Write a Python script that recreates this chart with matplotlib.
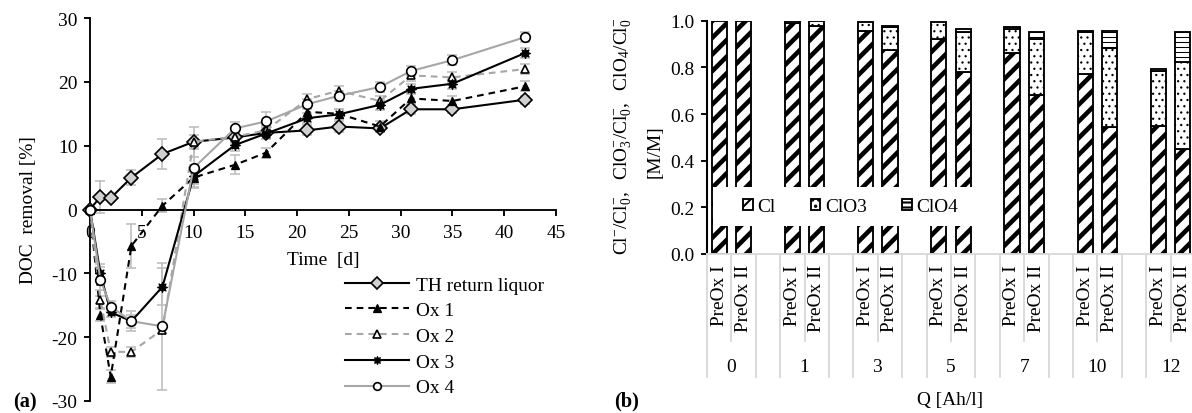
import matplotlib
matplotlib.use('Agg')
import matplotlib.pyplot as plt
import matplotlib.transforms as mtransforms
from matplotlib.patches import Rectangle, Patch
from matplotlib.lines import Line2D
import numpy as np

plt.rcParams['font.family'] = ['Liberation Serif', 'DejaVu Serif']
plt.rcParams['mathtext.fontset'] = 'custom'
plt.rcParams['mathtext.rm'] = 'Liberation Serif'
plt.rcParams['mathtext.it'] = 'Liberation Serif:italic'
plt.rcParams['mathtext.bf'] = 'Liberation Serif:bold'
plt.rcParams['axes.unicode_minus'] = False

# ---------------- data (a) ----------------
days = [0, 1, 2, 4, 7, 10, 14, 17, 21, 24, 28, 31, 35, 42]
th_vals = [0, 2.0, 1.8, 5.0, 8.7, 10.6, 11.3, 12.0, 12.4, 13.0, 12.7, 15.7, 15.7, 17.2]
ox1_vals = [0, -16.5, -26.2, -5.7, 0.6, 5.0, 7.0, 8.9, 15.3, 15.0, 13.0, 17.4, 17.0, 19.3]
ox2_vals = [0, -14.1, -22.3, -22.3, -18.8, 10.6, 11.4, 12.4, 17.3, 18.6, 17.0, 21.0, 20.7, 22.0]
ox3_vals = [0, -10.0, -16.1, -17.5, -12.1, 5.2, 10.1, 11.9, 14.3, 14.9, 16.4, 18.9, 19.7, 24.5]
ox4_vals = [0, -11.0, -15.2, -17.5, -18.3, 6.5, 12.7, 13.8, 16.5, 17.8, 19.2, 21.7, 23.4, 27.0]

th_err = [0, 2.5, 0.3, 1.2, 2.4, 2.3, 1.0, 1.0, 0.8, 0.8, 0.6, 0.8, 0.6, 0.6]
ox1_err = [0, 1.0, 1.0, 3.5, 1.0, 1.0, 1.5, 0.8, 0.8, 0.8, 0.8, 0.8, 0.8, 0.8]
ox2_err = [0, 1.5, 0.8, 0.8, 0.5, 1.0, 0.8, 0.8, 0.8, 0.8, 0.8, 0.8, 0.8, 0.8]
ox3_err = [0, 1.0, 0.8, 1.0, 2.9, 1.8, 1.0, 0.8, 0.8, 0.8, 0.8, 0.8, 0.8, 0.8]
ox4_err = [0, 2.5, 0.8, 1.6, 9.9, 3.0, 1.0, 1.5, 0.8, 0.8, 0.8, 0.8, 0.8, 0.8]

series_labels = ['TH return liquor', 'Ox 1', 'Ox 2', 'Ox 3', 'Ox 4']

# ---------------- data (b) ----------------
q_groups = ['0', '1', '3', '5', '7', '10', '12']
sub_labels = ['PreOx I', 'PreOx II']
cl_I = [1.0, 0.989, 0.957, 0.921, 0.862, 0.771, 0.550]
clo3_I = [0.0, 0.011, 0.039, 0.075, 0.102, 0.179, 0.236]
clo4_I = [0.0, 0.0, 0.0, 0.0, 0.007, 0.007, 0.007]
cl_II = [1.0, 0.979, 0.876, 0.781, 0.683, 0.543, 0.450]
clo3_II = [0.0, 0.021, 0.096, 0.169, 0.238, 0.340, 0.372]
clo4_II = [0.0, 0.0, 0.007, 0.014, 0.029, 0.074, 0.128]
species = ['Cl', 'ClO3', 'ClO4']

# ---------------- figure ----------------
DPI = 150
W, H = 1192, 414
FS = 9.3
fig = plt.figure(figsize=(W / DPI, H / DPI), dpi=DPI)


def fx(px):
    return px / W


def fy(py):
    return 1 - py / H


# ======== panel (a) ========
ax1 = fig.add_axes([fx(90), fy(402), (556 - 90) / W, (402 - 19) / H])
ax1.set_xlim(0, 45)
ax1.set_ylim(-30, 30)
ax1.spines['top'].set_visible(False)
ax1.spines['right'].set_visible(False)
ax1.spines['bottom'].set_position(('data', 0))
for s in ('left', 'bottom'):
    ax1.spines[s].set_linewidth(0.9)
ax1.set_xticks(range(0, 46, 5))
ax1.set_yticks(range(-30, 31, 10))
ax1.tick_params(axis='both', direction='out', length=3, width=0.9, labelsize=FS)
ax1.tick_params(axis='x', pad=4)
ax1.tick_params(axis='y', pad=3)
ax1.set_xlabel('Time  [d]', fontsize=FS)
ax1.xaxis.set_label_coords(0.5, (402 - 252) / 383)
ax1.set_ylabel('DOC  removal [%]', fontsize=FS)
ax1.yaxis.set_label_coords((37 - 90) / 466, 0.5)

gray_line = '#a6a6a6'
err_col = '#bfbfbf'
styles = [
    dict(color='black', ls='-', marker='D', ms=5.0, mfc='#d0d0d0', mec='black', mew=0.8),
    dict(color='black', ls=(0, (3.2, 2.4)), marker='^', ms=4.2, mfc='black', mec='black', mew=0.6),
    dict(color=gray_line, ls=(0, (3.2, 2.4)), marker='^', ms=4.2, mfc='white', mec='black', mew=0.8),
    dict(color='black', ls='-', marker=(8, 1, 0), ms=5.0, mfc='black', mec='black', mew=0.5),
    dict(color=gray_line, ls='-', marker='o', ms=4.6, mfc='white', mec='black', mew=0.8),
]
all_vals = [th_vals, ox1_vals, ox2_vals, ox3_vals, ox4_vals]
all_errs = [th_err, ox1_err, ox2_err, ox3_err, ox4_err]

for vals, errs in zip(all_vals, all_errs):
    ax1.errorbar(days[1:], vals[1:], yerr=errs[1:], fmt='none', ecolor=err_col,
                 elinewidth=0.8, capsize=2.6, capthick=0.8, zorder=2)

handles = []
for i, (vals, st) in enumerate(zip(all_vals, styles)):
    ln, = ax1.plot(days, vals, lw=1.0, label=series_labels[i], zorder=3 + i,
                   clip_on=False, **st)
    handles.append(ln)

leg = fig.legend(handles=handles, loc='upper left',
                 bbox_to_anchor=(fx(345), fy(277)), bbox_transform=fig.transFigure,
                 frameon=False, fontsize=FS, borderpad=0, handlelength=3.3,
                 handletextpad=0.35, labelspacing=0.42, numpoints=1, markerscale=0.8,
                 borderaxespad=0)

fig.text(fx(25), fy(402), '(a)', fontsize=FS + 0.5, fontweight='bold', ha='center', va='center')

# ======== panel (b) ========
left_px, right_px, top_px, bot_px = 707, 1195, 21.7, 255
ax2 = fig.add_axes([fx(left_px), fy(bot_px), (right_px - left_px) / W, (bot_px - top_px) / H])
n_slots = 3 * len(q_groups) - 1
ax2.set_xlim(0, n_slots)
ax2.set_ylim(0, 1.0)
ax2.spines['top'].set_visible(False)
ax2.spines['right'].set_visible(False)
ax2.spines['left'].set_linewidth(1.0)
ax2.spines['bottom'].set_color('#d9d9d9')
ax2.spines['bottom'].set_linewidth(0.9)
ax2.set_xticks([])
ax2.set_yticks(np.arange(0, 1.01, 0.2))
ax2.yaxis.set_major_formatter(matplotlib.ticker.FormatStrFormatter('%.1f'))
ax2.tick_params(axis='y', direction='out', length=3, width=0.9, labelsize=FS, pad=3)

pos_I = [3 * g + 0.5 for g in range(len(q_groups))]
pos_II = [3 * g + 1.5 for g in range(len(q_groups))]
bw = 0.62

hatch_specs = [('///', 2.2), ('....', 0.5), ('-----', 0.5)]


def hbar(x, h, b, hatch, hlw):
    with plt.rc_context({'hatch.linewidth': hlw, 'hatch.color': 'black'}):
        bars = ax2.bar(x, h, bw, bottom=b, color='white', edgecolor='black',
                       linewidth=0.9, hatch=hatch, zorder=1)
        for p in bars:
            try:
                p.set_hatch_linewidth(hlw)
            except Exception:
                pass
    return bars


for pos, cl, c3, c4 in ((pos_I, cl_I, clo3_I, clo4_I), (pos_II, cl_II, clo3_II, clo4_II)):
    cl = np.array(cl)
    c3 = np.array(c3)
    c4 = np.array(c4)
    hbar(pos, cl, 0, hatch_specs[0][0], hatch_specs[0][1])
    m3 = c3 > 0
    hbar(np.array(pos)[m3], c3[m3], cl[m3], hatch_specs[1][0], hatch_specs[1][1])
    m4 = c4 > 0
    hbar(np.array(pos)[m4], c4[m4], (cl + c3)[m4], hatch_specs[2][0], hatch_specs[2][1])

# legend white box (Excel-style overlay)
bx0 = (713 - left_px) / (right_px - left_px)
bx1 = (972 - left_px) / (right_px - left_px)
by0 = (bot_px - 227) / (bot_px - top_px)
by1 = (bot_px - 188) / (bot_px - top_px)
ax2.add_patch(Rectangle((bx0, by0), bx1 - bx0, by1 - by0, transform=ax2.transAxes,
                        facecolor='white', edgecolor='none', zorder=3))
leg_handles = []
for (h, hlw), lab in zip(hatch_specs, species):
    with plt.rc_context({'hatch.linewidth': min(hlw, 1.2)}):
        p = Patch(facecolor='white', edgecolor='black', hatch=h, linewidth=0.9, label=lab)
        try:
            p.set_hatch_linewidth(min(hlw, 1.2))
        except Exception:
            pass
    leg_handles.append(p)
leg2 = ax2.legend(handles=leg_handles, loc='center left',
                  bbox_to_anchor=((743 - left_px) / (right_px - left_px), (bot_px - 207.5) / (bot_px - top_px)),
                  ncol=3, frameon=False, fontsize=FS, borderpad=0, handlelength=0.5,
                  handleheight=0.5, handletextpad=0.25, columnspacing=1.8, borderaxespad=0)
leg2.set_zorder(5)

# y label (two lines)
fig.text(fx(623), fy(136),
         r'$\mathrm{Cl^{-}/Cl^{-}_{0},\ \ ClO_{3}^{-}/Cl^{-}_{0},\ \ ClO_{4}/Cl^{-}_{0}}$',
         rotation=90, ha='center', va='center', fontsize=FS)
fig.text(fx(655), fy(152), '[M/M]', rotation=90, ha='center', va='center', fontsize=FS)

# multi-level category axis
trans = mtransforms.blended_transform_factory(ax2.transData, fig.transFigure)
sep_col = '#d9d9d9'
for g, q in enumerate(q_groups):
    for k, lab in enumerate(sub_labels):
        xc = 3 * g + 0.5 + k
        fig.text(0, 0, lab, transform=trans, fontsize=FS, rotation=90,
                 ha='center', va='top').set_position((xc, fy(265)))
    fig.text(0, 0, q, transform=trans, fontsize=FS, ha='center', va='center').set_position((3 * g + 1, fy(367)))
boundaries = list(range(0, n_slots + 1))
for b in boundaries:
    short = (b % 3 == 1)
    yend = 342 if short else 378
    fig.add_artist(Line2D([b, b], [fy(bot_px), fy(yend)], transform=trans,
                          color=sep_col, lw=0.9, clip_on=False))

fig.text(fx(950), fy(401), 'Q [Ah/l]', fontsize=FS, ha='center', va='center')
fig.text(fx(627), fy(401), '(b)', fontsize=FS + 0.5, fontweight='bold', ha='center', va='center')

fig.savefig('out.png', dpi=DPI)
